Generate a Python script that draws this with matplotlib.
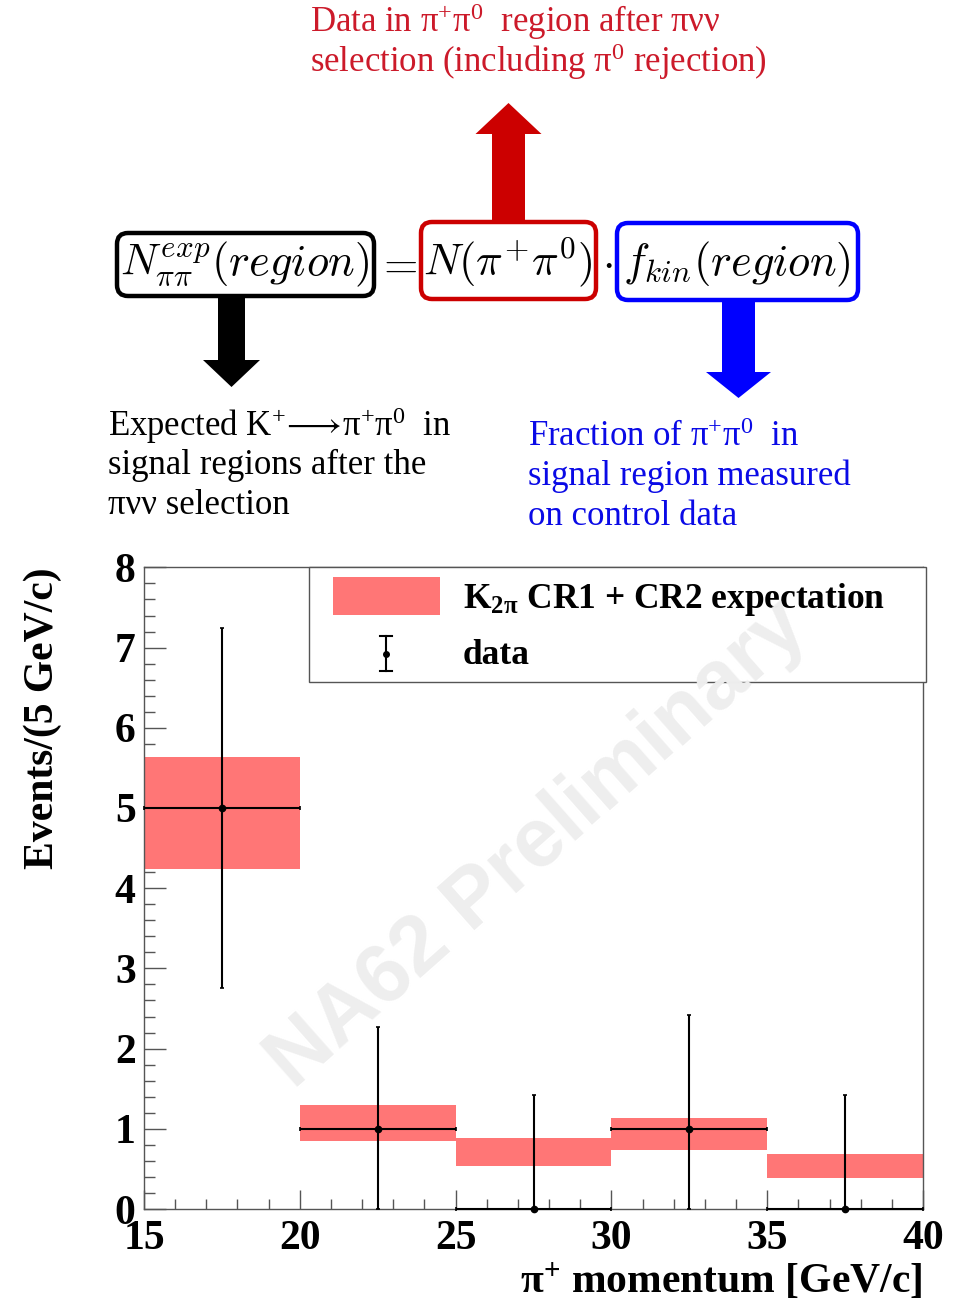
import matplotlib
matplotlib.use("Agg")
import matplotlib.pyplot as plt
import numpy as np
from matplotlib.patches import FancyBboxPatch, FancyArrow, Rectangle
from matplotlib.lines import Line2D

# ---------------- data ----------------
bin_edges = [15, 20, 25, 30, 35, 40]
exp_low = [4.24, 0.85, 0.53, 0.73, 0.39]
exp_high = [5.64, 1.30, 0.885, 1.135, 0.69]
data_x = [17.5, 22.5, 27.5, 32.5, 37.5]
data_y = [5, 1, 0, 1, 0]
err_up = [2.24, 1.27, 1.42, 1.42, 1.42]
err_dn = [2.24, 1.0, 0.0, 1.0, 0.0]
x_ticks = [15, 20, 25, 30, 35, 40]
y_ticks = [0, 1, 2, 3, 4, 5, 6, 7, 8]

plt.rcParams['mathtext.fontset'] = 'custom'
plt.rcParams['mathtext.rm'] = 'Liberation Serif'
plt.rcParams['mathtext.it'] = 'Liberation Serif:italic'
plt.rcParams['mathtext.bf'] = 'Liberation Serif:bold'
plt.rcParams['mathtext.fallback'] = 'stix'

W, H = 962, 1299
fig = plt.figure(figsize=(W / 100, H / 100), dpi=100)

# ---------------- overlay (top schematic) ----------------
ov = fig.add_axes([0, 0, 1, 1])
ov.set_xlim(0, W)
ov.set_ylim(H, 0)
ov.axis('off')

red_txt = '#cc1a2a'
red = '#cc0000'
blue = '#0000ff'
blue_txt = '#0a0ae6'
serif = ['Liberation Serif', 'DejaVu Sans']
fs_txt = 25

ov.text(310, 22, r"Data in π$^{+}$π$^{0}$  region after πνν", color=red_txt,
        fontsize=fs_txt, family=serif, va='center', ha='left')
ov.text(310, 62, r"selection (including π$^{0}$ rejection)", color=red_txt,
        fontsize=fs_txt, family=serif, va='center', ha='left')

for i, s in enumerate([r"Expected K$^{+}\!\longrightarrow\!$π$^{+}$π$^{0}$  in",
                       "signal regions after the",
                       "πνν selection"]):
    ov.text(108, 426 + 39.5 * i, s, color='black', fontsize=fs_txt,
            family=serif, va='center', ha='left')
for i, s in enumerate([r"Fraction of π$^{+}$π$^{0}$  in",
                       "signal region measured",
                       "on control data"]):
    ov.text(528, 437 + 39.5 * i, s, color=blue_txt, fontsize=fs_txt,
            family=serif, va='center', ha='left')

# boxes
for (x0, y0, x1, y1, c) in [(117, 233, 374, 296, 'black'),
                            (421, 222, 596, 299, red),
                            (617, 223, 858, 300, blue)]:
    ov.add_patch(FancyBboxPatch((x0, y0), x1 - x0, y1 - y0,
                                boxstyle='round,pad=0,rounding_size=11',
                                fc='white', ec=c, lw=3.2, zorder=3))

fs_eq = 32
ov.text(245, 264, r"$N_{\pi\pi}^{exp}(region)$", fontsize=fs_eq,
        math_fontfamily='cm', ha='center', va='center', zorder=4)
ov.text(397, 264, r"$=$", fontsize=fs_eq, math_fontfamily='cm',
        ha='center', va='center', zorder=4)
ov.text(508, 262, r"$N(\pi^{+}\pi^{0})$", fontsize=fs_eq,
        math_fontfamily='cm', ha='center', va='center', zorder=4)
ov.text(607, 262, r"$\cdot$", fontsize=fs_eq, math_fontfamily='cm',
        ha='center', va='center', zorder=4)
ov.text(737, 264, r"$f_{kin}(region)$", fontsize=fs_eq,
        math_fontfamily='cm', ha='center', va='center', zorder=4)

# arrows
ov.add_patch(FancyArrow(508.5, 222, 0, -119, width=33, head_width=66,
                        head_length=31, length_includes_head=True,
                        color=red, lw=0, zorder=2))
ov.add_patch(FancyArrow(231.5, 296, 0, 91, width=27, head_width=57,
                        head_length=27, length_includes_head=True,
                        color='black', lw=0, zorder=2))
ov.add_patch(FancyArrow(738.5, 300, 0, 98, width=33, head_width=65,
                        head_length=26, length_includes_head=True,
                        color=blue, lw=0, zorder=2))

# ---------------- main plot ----------------
x_left, x_right = 144, 923
y_bot, y_top = 1209, 567.4
ax = fig.add_axes([x_left / W, 1 - y_bot / H, (x_right - x_left) / W,
                   (y_bot - y_top) / H])
ax.set_zorder(2)
ax.patch.set_alpha(0)

centers = [(bin_edges[i] + bin_edges[i + 1]) / 2 for i in range(len(bin_edges) - 1)]
widths = [bin_edges[i + 1] - bin_edges[i] for i in range(len(bin_edges) - 1)]
heights = [h - l for h, l in zip(exp_high, exp_low)]
band_col = '#ff7676'
ax.bar(centers, heights, bottom=exp_low, width=widths, color=band_col,
       edgecolor='none', zorder=2)

ax.errorbar(data_x, data_y, yerr=[err_dn, err_up], xerr=[w / 2 for w in widths],
            fmt='o', ms=4.5, color='black', ecolor='black', elinewidth=1.5,
            capsize=1.5, capthick=1.2, zorder=4, clip_on=False)

ax.set_xlim(15, 40)
ax.set_ylim(0, 8)
ax.set_xticks(x_ticks)
ax.set_yticks(y_ticks)
ax.set_xticks(np.arange(15, 40.1, 1), minor=True)
ax.set_yticks(np.arange(0, 8.01, 0.2), minor=True)
tick_font = dict(family='Liberation Serif', weight='bold', size=30)
ax.set_xticklabels([str(v) for v in x_ticks], fontdict=tick_font)
ax.set_yticklabels([str(v) for v in y_ticks], fontdict=tick_font)
ax.tick_params(axis='both', which='both', direction='in', color='#555555',
               width=1, top=False, right=False)
ax.tick_params(axis='y', which='major', length=16, pad=6)
ax.tick_params(axis='y', which='minor', length=8)
ax.tick_params(axis='x', which='major', length=14, pad=8)
ax.tick_params(axis='x', which='minor', length=7)
for sp in ax.spines.values():
    sp.set_color('#555555')
    sp.set_linewidth(1)

lab_font = dict(family='Liberation Serif', weight='bold', size=30)
ax.set_xlabel(r"π$^{\mathbf{+}}$ momentum [GeV/c]", fontdict=lab_font,
              loc='right', labelpad=2)
ax.set_ylabel("Events/(5 GeV/c)", fontdict=lab_font, loc='top', labelpad=38)

# legend (drawn manually inside the frame)
T = ax.transAxes
def fx(px):
    return (px - x_left) / (x_right - x_left)
def fy(py):
    return (y_bot - py) / (y_bot - y_top)
lx0 = fx(309)
ly0 = fy(682)
ax.add_patch(Rectangle((lx0, ly0), fx(926) - lx0, 1 - ly0, transform=T,
                       fc='white', ec='#555555', lw=1, zorder=5, clip_on=False))
ax.add_patch(Rectangle((fx(333), fy(615)), fx(440) - fx(333), fy(577) - fy(615),
                       transform=T, fc=band_col, ec='none', zorder=6))
ax.add_line(Line2D([fx(386), fx(386)], [fy(671), fy(636)], transform=T,
                   color='black', lw=1.5, zorder=6))
for yy in (636, 671):
    ax.add_line(Line2D([fx(380), fx(392)], [fy(yy), fy(yy)], transform=T,
                       color='black', lw=1.5, zorder=6))
ax.add_line(Line2D([fx(386)], [fy(654)], transform=T, marker='o', ms=4,
                   color='black', zorder=6))
leg_font = dict(family='Liberation Serif', weight='bold', size=25.5)
ax.text(fx(463), fy(599), r"K$_{\mathbf{2\pi}}$ CR1 + CR2 expectation",
        transform=T, va='center', ha='left', zorder=6, **leg_font)
ax.text(fx(463), fy(656), "data", transform=T, va='center', ha='left',
        zorder=6, **leg_font)

# watermark
ax.text(fx(538), fy(845), "NA62 Preliminary", transform=T, rotation=41.5,
        rotation_mode='anchor', ha='center', va='center', color='#eeeeee',
        family='Liberation Sans', weight='bold', size=60, zorder=7)

fig.savefig("out.png", dpi=100)
